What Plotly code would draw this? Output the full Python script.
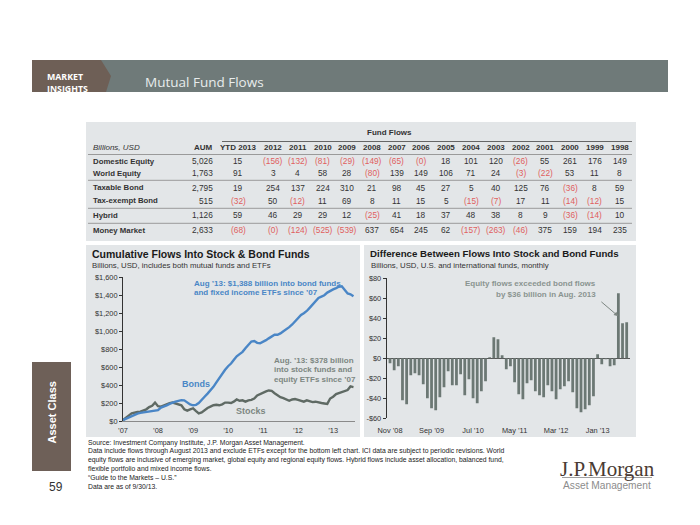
import math
import pandas as pd
import plotly.graph_objects as go

W, H = 700, 525


def X(p):
    return p / W


def Y(p):
    return 1 - p / H


# ---------------- data ----------------
table_rows = ["Domestic Equity", "World Equity", "Taxable Bond",
              "Tax-exempt Bond", "Hybrid", "Money Market"]
aum = [5026, 1763, 2795, 515, 1126, 2633]
flow_years = ["YTD 2013", "2012", "2011", "2010", "2009", "2008", "2007", "2006",
              "2005", "2004", "2003", "2002", "2001", "2000", "1999", "1998"]
domestic_equity = [15, -156, -132, -81, -29, -149, -65, -0.0, 18, 101, 120, -26, 55, 261, 176, 149]
world_equity = [91, 3, 4, 58, 28, -80, 139, 149, 106, 71, 24, -3, -22, 53, 11, 8]
taxable_bond = [19, 254, 137, 224, 310, 21, 98, 45, 27, 5, 40, 125, 76, -36, 8, 59]
tax_exempt_bond = [-32, 50, -12, 11, 69, 8, 11, 15, 5, -15, -7, 17, 11, -14, -12, 15]
hybrid = [59, 46, 29, 29, 12, -25, 41, 18, 37, 48, 38, 8, 9, -36, -14, 10]
money_market = [-68, -0.0, -124, -525, -539, 637, 654, 245, 62, -157, -263, -46, 375, 159, 194, 235]
table_values = [domestic_equity, world_equity, taxable_bond, tax_exempt_bond, hybrid, money_market]

# cumulative flows, monthly Jan 2007 - Aug 2013 (billions USD)
bond_cum = [10, 25, 40, 55, 70, 82, 90, 95, 100, 105, 110, 115,
            120, 150, 160, 175, 190, 205, 215, 225, 232, 230, 205, 185,
            175, 180, 200, 230, 270, 305, 340, 380, 430, 480, 530, 570,
            610, 640, 680, 720, 745, 770, 810, 850, 885, 890, 870, 865,
            880, 900, 920, 945, 960, 960, 975, 1000, 1020, 1045, 1075, 1110,
            1150, 1180, 1200, 1225, 1260, 1295, 1330, 1370, 1385, 1400, 1430, 1450,
            1465, 1480, 1495, 1500, 1460, 1420, 1410, 1388]
stock_cum = [10, 40, 60, 85, 95, 100, 105, 115, 130, 155, 170, 205,
             165, 160, 175, 190, 200, 205, 195, 190, 175, 130, 115, 130,
             140, 110, 85, 95, 120, 145, 160, 175, 180, 175, 185, 205,
             205, 200, 215, 240, 225, 230, 215, 230, 235, 250, 285, 300,
             320, 330, 340, 335, 310, 285, 265, 255, 240, 225, 240, 245,
             235, 225, 215, 230, 220, 210, 215, 205, 200, 195, 190, 250,
             270, 300, 310, 325, 340, 345, 385, 378]
cum_dates = pd.date_range("2007-01-01", periods=len(bond_cum), freq="MS")
cum_tick_dates = ["2007-01-01", "2008-01-01", "2009-01-01", "2010-01-01",
                  "2011-01-01", "2012-01-01", "2013-01-01"]
cum_tick_labels = ["\u201907", "\u201908", "\u201909", "\u201910", "\u201911", "\u201912", "\u201913"]
cum_yticks = [0, 200, 400, 600, 800, 1000, 1200, 1400, 1600]
cum_yticklabels = ["$0", "$200", "$400", "$600", "$800", "$1,000", "$1,200", "$1,400", "$1,600"]

# monthly difference equity minus bond flows, Nov 2008 - Aug 2013
diff_values = [-5, -12, -8, -42, -46, -17, -15, -17, -26, -40,
               -50, -52, -39, -29, -13, -27, -27, -16, -37, -21,
               -40, -45, -33, -23, 1, 21, 19, 3, -11, -8,
               -24, -36, -41, -25, -22, -33, -37, -39, -27, -33,
               -41, -31, -28, -23, -34, -50, -54, -51, -47, -38,
               4, -6, -1, -8, -7, 65, 35, 36]
diff_months = [d.strftime("%b \u2019%y") for d in
               pd.date_range("2008-11-01", periods=len(diff_values), freq="MS")]
diff_tick_every = 10
diff_yticks = [-60, -40, -20, 0, 20, 40, 60, 80]
diff_yticklabels = ["-$60", "-$40", "-$20", "$0", "$20", "$40", "$60", "$80"]

# ---------------- styles ----------------
FONT = "Liberation Sans, Arial, sans-serif"
TXT = "#333333"
RED = "#e0605e"
PANEL = "#e3e6e8"
BOND_C = "#4a86c6"
STOCK_C = "#5f6a64"
BAR_C = "#6c7874"

fig = go.Figure()
fig.add_trace(go.Scatter(x=cum_dates, y=stock_cum, mode="lines",
                         line=dict(color=STOCK_C, width=2.4), xaxis="x", yaxis="y",
                         hoverinfo="skip", showlegend=False))
fig.add_trace(go.Scatter(x=cum_dates, y=bond_cum, mode="lines",
                         line=dict(color=BOND_C, width=2.4), xaxis="x", yaxis="y",
                         hoverinfo="skip", showlegend=False))
fig.add_trace(go.Bar(x=diff_months, y=diff_values, marker=dict(color=BAR_C, line=dict(width=0)),
                     xaxis="x2", yaxis="y2", hoverinfo="skip", showlegend=False))

shapes = []
ann = []


def rect(x0, y0, x1, y1, color):
    shapes.append(dict(type="rect", xref="paper", yref="paper", x0=X(x0), x1=X(x1),
                       y0=Y(y1), y1=Y(y0), fillcolor=color, line=dict(width=0), layer="below"))


def hline(x0, x1, y, color="#9a9a9a", w=1):
    shapes.append(dict(type="line", xref="paper", yref="paper", x0=X(x0), x1=X(x1),
                       y0=Y(y), y1=Y(y), line=dict(color=color, width=w)))


def text(x, y, s, size=8, color=TXT, xanchor="left", bold=False, family=FONT, angle=0):
    if bold:
        s = "<b>" + s + "</b>"
    ann.append(dict(xref="paper", yref="paper", x=X(x), y=Y(y), text=s, showarrow=False,
                    xanchor=xanchor, yanchor="middle", textangle=angle, borderpad=0,
                    font=dict(size=size, color=color, family=family)))


# header bar
rect(100, 60, 668, 92, "#6f7a79")
shapes.append(dict(type="path", xref="paper", yref="paper",
                   path=f"M {X(32)} {Y(60)} L {X(101)} {Y(60)} L {X(111)} {Y(76)} "
                        f"L {X(106)} {Y(92)} L {X(32)} {Y(92)} Z",
                   fillcolor="#6e5f56", line=dict(width=0), layer="below"))
text(46, 77, "MARKET", size=8.8, color="white", bold=True, family="Open Sans, sans-serif")
text(46, 88.5, "INSIGHTS", size=8.8, color="white", bold=True, family="Open Sans, sans-serif")
text(144, 82, "Mutual Fund Flows", size=13.5, color="#e8ecec", family="Open Sans, sans-serif")

# panels
rect(86, 122, 636, 241, PANEL)
rect(86, 245, 360, 437, PANEL)
rect(364, 245, 636, 437, PANEL)

# table
text(389, 132.5, "Fund Flows", size=8, bold=True, xanchor="center")
hline(222, 632, 141.5, color="#666666")
text(92, 147.7, "<i>Billions, USD</i>", size=8)
text(214, 147.7, "AUM", size=8, bold=True, xanchor="right")
col_x = [238] + [273 + 24.75 * i for i in range(len(flow_years) - 1)]
for cx, yr in zip(col_x, flow_years):
    text(cx, 147.7, yr, size=8, bold=True, xanchor="center")
hline(88, 632, 154.5)
row_y = [161, 173.3, 187.7, 200.7, 215, 230.3]
for ry, name, a, vals in zip(row_y, table_rows, aum, table_values):
    text(92, ry, name, size=7.8, bold=True)
    text(214, ry, f"{a:,}", size=8.3, xanchor="right")
    for cx, v in zip(col_x, vals):
        neg = math.copysign(1, v) < 0
        s = f"({abs(int(v))})" if neg else f"{int(v)}"
        text(cx, ry, s, size=8.3, color=RED if neg else TXT, xanchor="center")
hline(88, 632, 180.3)
hline(88, 632, 208.3)
hline(88, 632, 223.3)

# left chart titles
text(91, 253.5, "Cumulative Flows Into Stock &amp; Bond Funds", size=10.5, bold=True, color="#1a1a1a")
text(91, 265.5, "Billions, USD, includes both mutual funds and ETFs", size=7.8)
text(193, 283, "Aug \u201913: $1,388 billion into bond funds", size=8, bold=True, color=BOND_C)
text(193, 292.5, "and fixed income ETFs since \u201907", size=8, bold=True, color=BOND_C)
text(273, 360, "Aug. \u201913: $378 billion", size=8, bold=True, color="#7d8682")
text(273, 369.5, "into stock funds and", size=8, bold=True, color="#7d8682")
text(273, 379, "equity ETFs since \u201907", size=8, bold=True, color="#7d8682")
text(181, 383.5, "Bonds", size=9, bold=True, color=BOND_C)
text(235, 411, "Stocks", size=9, bold=True, color="#7d8682")

# right chart titles
text(369, 253.5, "Difference Between Flows Into Stock and Bond Funds", size=9.7, bold=True, color="#1a1a1a")
text(370, 265.5, "Billions, USD, U.S. and international funds, monthly", size=7.8)
text(597, 283, "Equity flows exceeded bond flows", size=8, bold=True, color="#8a9490", xanchor="right")
text(597, 294, "by $36 billion in Aug. 2013", size=8, bold=True, color="#8a9490", xanchor="right")
ann.append(dict(xref="x2", yref="y2", x=diff_months[-3], y=42, ax=-20, ay=-17, text=" ",
                showarrow=True, arrowhead=2, arrowsize=0.9, arrowwidth=1, arrowcolor="#7d8682"))

# sidebar
rect(32, 362, 71, 471, "#6e6058")
text(51.5, 412, "Asset Class", size=11, bold=True, color="white", xanchor="center", angle=-90)
text(56, 487, "59", size=12, color=TXT, xanchor="center")

# footnotes
foot = [
    "Source: Investment Company Institute, J.P. Morgan Asset Management.",
    "Data include flows through August 2013 and exclude ETFs except for the bottom left chart. ICI data are subject to periodic revisions. World",
    "equity flows are inclusive of emerging market, global equity and regional equity flows. Hybrid flows include asset allocation, balanced fund,",
    "flexible portfolio and mixed income flows.",
    "\u201cGuide to the Markets \u2013 U.S.\u201d",
    "Data are as of 9/30/13.",
]
for i, line in enumerate(foot):
    text(87, 442.5 + i * 8.7, line, size=6.8, color="#222222")

# logo
text(607, 468.5, "J.P.Morgan", size=21, color="#4a3b33", xanchor="center",
     family="Liberation Serif, DejaVu Serif, serif")
hline(562, 652, 477.5, color="#a0a0a0")
text(607, 485.5, "Asset Management", size=10.2, color="#8c8c8c", xanchor="center")

axis_font = dict(size=7.4, color=TXT, family=FONT)
fig.update_layout(
    width=W, height=H, margin=dict(l=0, r=0, t=0, b=0, autoexpand=False),
    paper_bgcolor="white", plot_bgcolor="rgba(0,0,0,0)",
    showlegend=False, bargap=0.33,
    font=dict(family=FONT, color=TXT),
    shapes=shapes, annotations=ann,
    xaxis=dict(domain=[X(123), X(355)], type="date",
               range=["2007-01-01", "2013-08-17"], anchor="y", automargin=False,
               tickvals=cum_tick_dates, ticktext=cum_tick_labels,
               showgrid=False, zeroline=False, showline=True, linecolor="#8a8a8a",
               linewidth=1, ticks="outside", ticklen=2, tickcolor="rgba(0,0,0,0)",
               tickfont=axis_font),
    yaxis=dict(domain=[Y(421), Y(277.3)], range=[0, 1600], anchor="x", automargin=False,
               tickvals=cum_yticks, ticktext=cum_yticklabels,
               showgrid=False, zeroline=False, showline=True, linecolor="#333333",
               linewidth=1, ticks="outside", ticklen=3, tickcolor="#333333",
               tickfont=axis_font),
    xaxis2=dict(domain=[X(386.7), X(630)], type="category", automargin=False,
                range=[-0.8, len(diff_values) - 0.2], anchor="y2",
                tickvals=diff_months[::diff_tick_every], ticktext=diff_months[::diff_tick_every],
                showgrid=False, zeroline=False, showline=False,
                ticks="outside", ticklen=5, tickcolor="rgba(0,0,0,0)",
                tickfont=axis_font),
    yaxis2=dict(domain=[Y(418.3), Y(278.3)], range=[-60, 80], anchor="x2", automargin=False,
                tickvals=diff_yticks, ticktext=diff_yticklabels,
                showgrid=False, zeroline=True, zerolinecolor="#555555", zerolinewidth=1,
                showline=True, linecolor="#333333", linewidth=1,
                ticks="outside", ticklen=3, tickcolor="#333333",
                tickfont=axis_font),
)

fig.write_html("out.html", config={"displayModeBar": False, "staticPlot": True},
               post_script="document.body.style.margin='0px';")
